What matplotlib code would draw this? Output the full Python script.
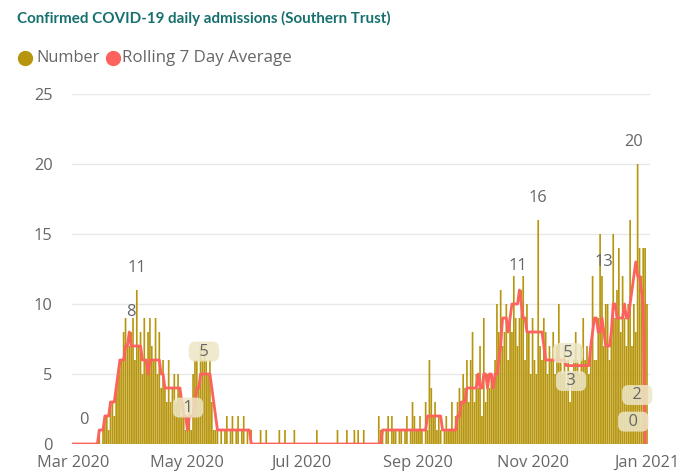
import pandas as pd
import matplotlib
matplotlib.use("Agg")
import matplotlib.pyplot as plt
from matplotlib.lines import Line2D

# ---------------------------------------------------------
# Confirmed COVID-19 daily admissions (Southern Trust)
# daily values, 1 Mar 2020 -> 1 Jan 2021
# ---------------------------------------------------------

number_mar = [0] * 14 + [1, 0, 1, 2, 2, 1, 3, 3, 2, 4, 5, 6, 6, 8, 9, 7, 7]
number_apr = [8, 9, 6, 11, 7, 8, 5, 9, 6, 8, 9, 7, 6, 9, 5, 8, 4, 6, 4, 3,
              6, 3, 4, 5, 3, 5, 4, 2, 3, 1]
number_may = [2, 3, 1, 5, 6, 6, 4, 7, 6, 7, 6, 5, 6, 3, 1, 1, 1, 0, 1, 0,
              1, 2, 0, 1, 2, 0, 1, 2, 0, 1, 2]
number_jun = [0, 1, 0, 1, 0, 0, 0, 0, 1, 0, 0, 1, 0, 0, 0, 0, 0, 0, 1, 0,
              0, 1, 0, 0, 0, 0, 1, 0, 0, 0]
number_jul = [0, 0, 0, 0, 0, 0, 0, 0, 1, 0, 0, 0, 0, 0, 0, 0, 0, 0, 0, 1,
              0, 0, 0, 0, 1, 0, 0, 0, 1, 0, 1]
number_aug = [0, 0, 1, 0, 0, 0, 0, 0, 0, 0, 2, 1, 1, 0, 1, 2, 0, 2, 1, 1,
              0, 1, 1, 0, 1, 2, 0, 1, 3, 2, 1]
number_sep = [1, 2, 1, 0, 3, 1, 6, 4, 2, 3, 1, 2, 1, 0, 1, 2, 1, 1, 3, 1,
              2, 3, 4, 3, 5, 4, 6, 3, 6, 8]
number_oct = [3, 5, 4, 7, 2, 9, 3, 5, 4, 5, 4, 6, 10, 8, 11, 7, 8, 10, 6, 9,
              8, 12, 9, 7, 9, 11, 12, 6, 10, 8, 5]
number_nov = [9, 6, 5, 16, 7, 6, 9, 8, 5, 7, 6, 8, 5, 7, 10, 6, 5, 7, 4, 6,
              3, 5, 6, 8, 6, 5, 7, 9, 6, 7]
number_dec = [5, 7, 12, 6, 6, 9, 15, 12, 7, 10, 10, 6, 8, 15, 9, 11, 14, 8, 12, 9,
              7, 10, 16, 7, 10, 8, 20, 14, 12, 14, 14]
number_jan = [10]

# rolling 7 day average (as drawn, ends on 31 Dec)
avg_mar = [0] * 14 + [1, 1, 1, 2, 2, 2, 3, 3, 3, 4, 5, 6, 6, 6, 7, 7, 8]
avg_apr = [7, 7, 7, 7, 7, 7, 6, 6, 6, 5, 6, 6, 6, 6, 6, 6, 5, 5, 4, 4,
           4, 4, 4, 4, 4, 4, 4, 3, 2, 2]
avg_may = [1, 2, 2, 2, 3, 4, 4, 5, 5, 5, 5, 5, 5, 4, 3, 2, 1, 1, 1, 1,
           1, 1, 1, 1, 1, 1, 1, 1, 1, 1, 1]
avg_jun = [1, 1, 1] + [0] * 27
avg_jul = [0] * 31
avg_aug = [0] * 12 + [1] * 19
avg_sep = [1] * 5 + [2] * 8 + [1] * 8 + [2, 2, 3, 3, 3, 4, 4, 4, 4]
avg_oct = [4, 4, 5, 4, 4, 5, 5, 4, 5, 5, 4, 5, 5, 6, 7, 9, 9, 9, 8, 9,
           10, 10, 10, 10, 11, 10, 9, 9, 8, 8, 8]
avg_nov = [8, 8, 8, 8, 8, 8, 7, 6, 6, 6, 6, 6, 6, 6, 6, 6, 6, 6, 5.6, 5.6,
           5.6, 5.6, 5.6, 5.6, 5.6, 5.6, 5.6, 5.6, 5.6, 5.6]
avg_dec = [5.6, 7, 8, 9, 9, 8, 8, 9, 8, 7, 7, 7, 8, 10, 10, 9, 9, 9, 9, 10,
           9, 9, 10, 11, 12, 13, 12, 12, 11, 10, 0]

tick_labels = ["Mar 2020", "May 2020", "Jul 2020", "Sep 2020", "Nov 2020", "Jan 2021"]
tick_dates = ["2020-03-01", "2020-05-01", "2020-07-01", "2020-09-01", "2020-11-01", "2021-01-01"]

# data labels: text, day offset from 1 Mar, height, boxed
label_text = ["0", "8", "11", "1", "5", "11", "16", "5", "3", "13", "20", "2", "0"]
label_day = [5.9, 30.9, 34.1, 61.3, 69.8, 237.2, 247.9, 263.9, 265.5, 283.0, 299.0, 300.8, 298.7]
label_val = [1.7, 9.4, 12.6, 2.6, 6.6, 12.7, 17.6, 6.5, 4.5, 13.0, 21.6, 3.5, 1.6]
label_box = [False, False, False, True, True, False, False, True, True, False, False, True, True]

number = (number_mar + number_apr + number_may + number_jun + number_jul + number_aug
          + number_sep + number_oct + number_nov + number_dec + number_jan)
avg = (avg_mar + avg_apr + avg_may + avg_jun + avg_jul + avg_aug
       + avg_sep + avg_oct + avg_nov + avg_dec)

start = pd.Timestamp("2020-03-01")
dates = pd.date_range(start, periods=len(number), freq="D")
avg_dates = dates[:len(avg)]

BAR = "#B7960E"
RED = "#FD625E"
GREY = "#666666"

plt.rcParams["font.family"] = ["Open Sans", "DejaVu Sans"]

fig = plt.figure(figsize=(6.79, 4.73), dpi=100)
ax = fig.add_axes([72 / 679, 1 - 444 / 473, 578 / 679, 350 / 473])

ax.bar(dates, number, width=0.9, color=BAR, linewidth=0, snap=False, zorder=2)
ax.plot(avg_dates, avg, color=RED, linewidth=2.0, zorder=3, solid_joinstyle="round")

ax.set_ylim(0, 25)
ax.set_xlim(start - pd.Timedelta(hours=13), start + pd.Timedelta(days=307.6))
ax.set_yticks([0, 5, 10, 15, 20, 25])
ax.set_xticks(pd.to_datetime(tick_dates))
ax.set_xticklabels(tick_labels)
ax.tick_params(axis="both", length=0, labelsize=11.8, colors=GREY)
ax.tick_params(axis="y", pad=14)
ax.tick_params(axis="x", pad=8)
ax.grid(axis="y", color="#E8E8E8", linewidth=1, zorder=0)
for s in ax.spines.values():
    s.set_visible(False)

for t, d, v, b in zip(label_text, label_day, label_val, label_box):
    x = start + pd.Timedelta(days=d)
    if b:
        ax.text(x, v, "  " + t + "  ", ha="center", va="center", fontsize=11.8, color=GREY, zorder=5,
                bbox=dict(boxstyle="round,pad=0.12,rounding_size=0.4", fc="#EDE6C6", ec="none", alpha=0.85))
    else:
        ax.text(x, v, t, ha="center", va="center", fontsize=11.8, color=GREY, zorder=5)

# title and legend
fig.text(17 / 679, 1 - 18 / 473, "Confirmed COVID-19 daily admissions (Southern Trust)",
         fontsize=10.9, fontweight="bold", color="#16706E", va="center", ha="left",
         family=["Lato", "DejaVu Sans"])
fig.add_artist(Line2D([25 / 679], [1 - 58 / 473], marker="o", markersize=10, color=BAR,
                      transform=fig.transFigure))
fig.text(36 / 679, 1 - 58 / 473, "Number", fontsize=11.8, color=GREY, va="center", ha="left")
fig.add_artist(Line2D([113 / 679], [1 - 58 / 473], marker="o", markersize=10, color=RED,
                      transform=fig.transFigure))
fig.text(122 / 679, 1 - 58 / 473, "Rolling 7 Day Average", fontsize=12.2, color=GREY, va="center", ha="left")

fig.savefig("out.png", dpi=100)
